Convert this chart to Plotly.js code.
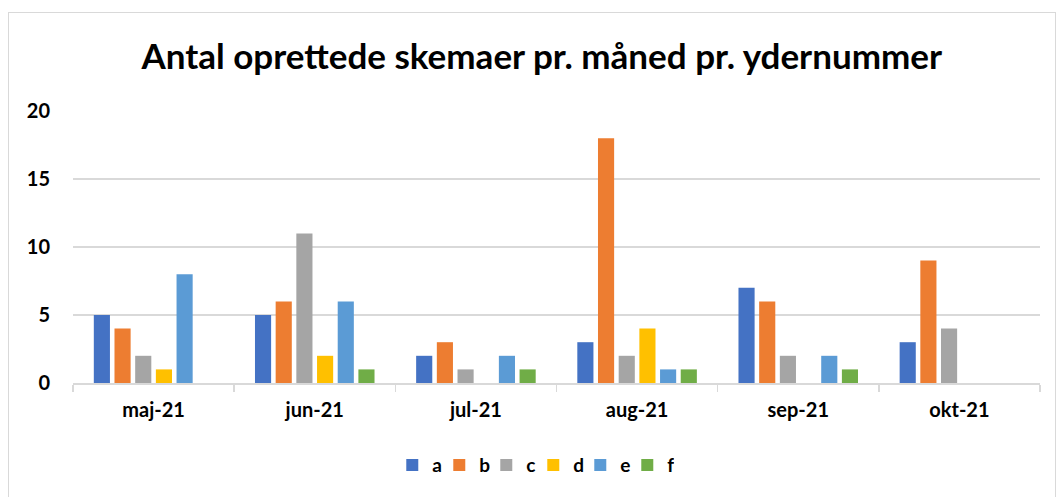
<!DOCTYPE html>
<html>
<head>
<meta charset="utf-8">
<script src="https://cdn.plot.ly/plotly-3.0.1.min.js"></script>
<style>
html,body{margin:0;padding:0;background:#fff;}
#chart{width:1056px;height:497px;}
#frame{position:absolute;left:8px;top:12px;width:1046px;height:490px;border:1px solid #d9d9d9;pointer-events:none;}
</style>
</head>
<body>
<div id="frame"></div>
<div id="chart"></div>
<script>
const months = ['maj-21','jun-21','jul-21','aug-21','sep-21','okt-21'];
const seriesNames = ['a','b','c','d','e','f'];
const a = [5,5,2,3,7,3];
const b = [4,6,3,18,6,9];
const c = [2,11,1,2,2,4];
const d = [1,2,0,4,0,0];
const e = [8,6,2,1,2,0];
const f = [0,1,1,1,1,0];
const colors = ['#4472c4','#ed7d31','#a5a5a5','#ffc000','#5b9bd5','#70ad47'];
const seriesValues = [a,b,c,d,e,f];

const FONT = 'Lato, "Open Sans", sans-serif';
const traces = seriesNames.map((n,i)=>({
  type:'bar', name:n, x:months, y:seriesValues[i],
  marker:{color:colors[i], line:{width:0}},
  hoverinfo:'y'
}));

const layout = {
  width:1056, height:497,
  margin:{l:73, r:16, t:111, b:114},
  paper_bgcolor:'rgba(0,0,0,0)', plot_bgcolor:'#fff',
  title:{text:'Antal oprettede skemaer pr. måned pr. ydernummer', x:0.513, xanchor:'center',
    yref:'container', y:0.885, yanchor:'middle',
    font:{family:FONT, size:35, color:'#000', weight:'bold'}},
  barmode:'group', bargap:0.23, bargroupgap:0.22,
  font:{family:FONT, color:'#000'},
  xaxis:{type:'category', showgrid:false, showline:true, linecolor:'#d9d9d9', linewidth:1.5,
    ticks:'outside', tickson:'boundaries', ticklen:7, tickcolor:'#d9d9d9', tickwidth:1.5,
    ticklabelstandoff:8,
    tickfont:{family:FONT, size:20, color:'#000', weight:'bold'}, automargin:false},
  yaxis:{range:[0,20], dtick:5, showgrid:true, gridcolor:'#d9d9d9', gridwidth:1.5,
    zeroline:false, showline:false, ticks:'', ticklabelstandoff:22,
    tickfont:{family:FONT, size:20, color:'#000', weight:'bold'}, automargin:false},
  showlegend:true,
  legend:{orientation:'h', x:0.505, xanchor:'center', xref:'container', yref:'container', y:0.064, yanchor:'middle',
    font:{family:FONT, size:19, color:'#000', weight:'bold'}, itemwidth:30, tracegroupgap:0,
    entrywidth:2, entrywidthmode:'pixels',
    itemclick:false, itemdoubleclick:false}
};
Plotly.newPlot('chart', traces, layout, {displayModeBar:false, staticPlot:true});
</script>
</body>
</html>
